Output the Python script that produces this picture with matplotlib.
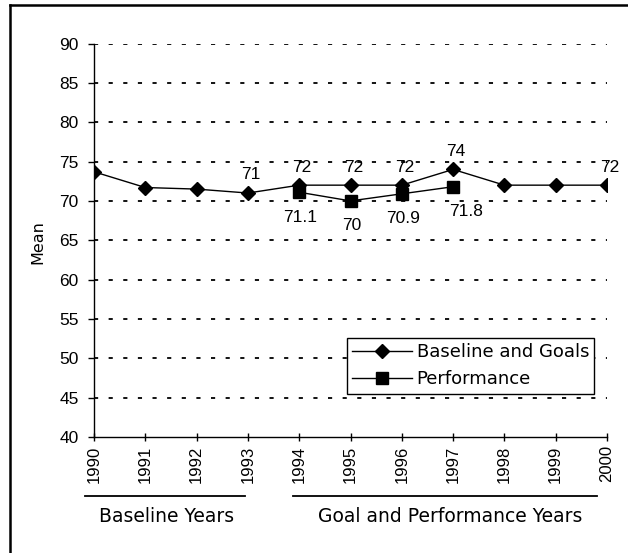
import matplotlib
matplotlib.use("Agg")
import matplotlib.pyplot as plt
from matplotlib.lines import Line2D

# Mean score per year
years = [1990, 1991, 1992, 1993, 1994, 1995, 1996, 1997, 1998, 1999, 2000]
baseline_goals = [73.7, 71.7, 71.5, 71, 72, 72, 72, 74, 72, 72, 72]
perf_years = [1994, 1995, 1996, 1997]
performance = [71.1, 70, 70.9, 71.8]

# years whose baseline/goal value is printed above the point
labelled_years = [1993, 1994, 1995, 1996, 1997, 2000]

y_ticks = list(range(40, 95, 5))

num_font = "Liberation Sans"
word_font = "DejaVu Sans"

W, H = 628, 553
fig = plt.figure(figsize=(W / 100, H / 100), dpi=100)

def fx(px):
    return px / W

def fy(py):
    return 1 - py / H

ax = fig.add_axes([fx(94), fy(437), fx(607) - fx(94), fy(43.5) - fy(437)])

# dotted horizontal gridlines
for v in y_ticks[1:]:
    ax.axhline(v, color="black", lw=1.3, ls=(0, (2.3, 5.8)), zorder=1)

ax.plot(years, baseline_goals, color="black", lw=1, marker="D", ms=7.5,
        mfc="black", mec="black", label="Baseline and Goals", zorder=3)
ax.plot(perf_years, performance, color="black", lw=1, marker="s", ms=9,
        mfc="black", mec="black", label="Performance", zorder=3)

for yr, v in zip(years, baseline_goals):
    if yr in labelled_years:
        ax.annotate("{:g}".format(v), (yr, v), xytext=(2, 13), textcoords="offset points",
                    ha="center", va="center", fontsize=12.5, family=num_font)

for i, (yr, v) in enumerate(zip(perf_years, performance)):
    dx = 9 if i == len(perf_years) - 1 else 1
    ax.annotate("{:g}".format(v), (yr, v), xytext=(dx, -18), textcoords="offset points",
                ha="center", va="center", fontsize=12.5, family=num_font)

ax.set_xlim(1990, 2000)
ax.set_ylim(40, 90)
ax.set_xticks(years)
ax.set_xticklabels([str(y) for y in years], rotation=90, fontsize=12, family=num_font)
ax.set_yticks(y_ticks)
ax.set_yticklabels([str(v) for v in y_ticks], fontsize=12.5, family=num_font)
ax.tick_params(axis="x", direction="inout", length=6, width=1, pad=3)
ax.tick_params(axis="y", direction="out", length=4, width=1, pad=7)
for side in ["top", "right"]:
    ax.spines[side].set_visible(False)
for side in ["left", "bottom"]:
    ax.spines[side].set_linewidth(1)
    ax.spines[side].set_zorder(4)

fig.text(fx(38), fy(242), "Mean", rotation=90, ha="center", va="center",
         fontsize=11.5, family=word_font)

leg = ax.legend(loc="upper left", bbox_to_anchor=(fx(347), fy(338)),
                bbox_transform=fig.transFigure, frameon=True, fancybox=False,
                edgecolor="black", framealpha=1, handlelength=3.3,
                borderaxespad=0, borderpad=0.3, labelspacing=0.5, handletextpad=0.25,
                prop={"family": word_font, "size": 13})
leg.get_frame().set_linewidth(1)

# period brackets under the year axis
fig.add_artist(Line2D([fx(85), fx(245)], [fy(496), fy(496)], color="black", lw=1.3))
fig.add_artist(Line2D([fx(293), fx(597)], [fy(496), fy(496)], color="black", lw=1.3))
fig.text(fx(167), fy(516), "Baseline Years", ha="center", va="center",
         fontsize=13.5, family=word_font)
fig.text(fx(450), fy(516), "Goal and Performance Years", ha="center", va="center",
         fontsize=13.5, family=word_font)

# outer frame
fig.add_artist(Line2D([fx(10), fx(628)], [fy(5), fy(5)], color="black", lw=1.8))
fig.add_artist(Line2D([fx(10), fx(10)], [fy(5), fy(553)], color="black", lw=1.8))

fig.savefig("out.png", dpi=100)
